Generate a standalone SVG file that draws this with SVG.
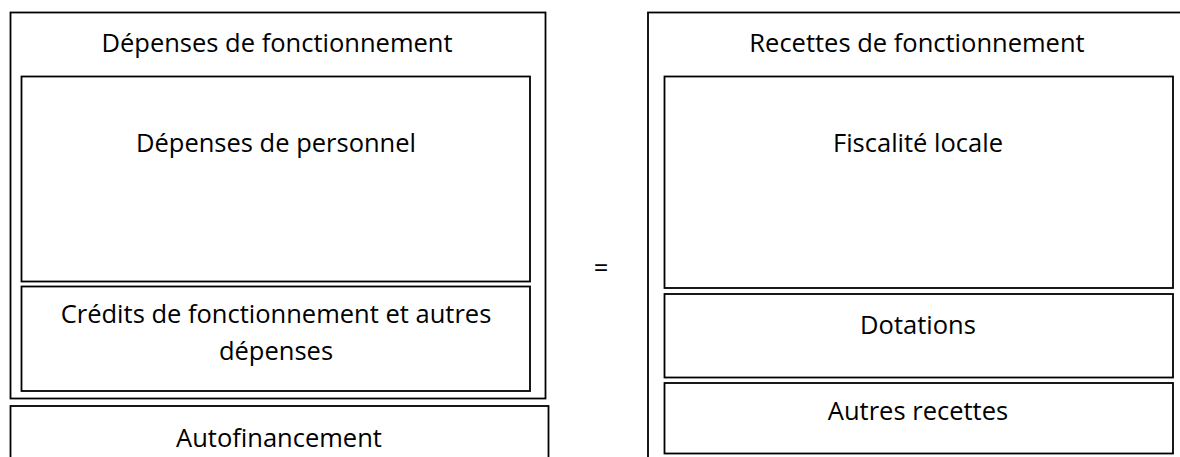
<svg xmlns="http://www.w3.org/2000/svg" width="1180" height="457" viewBox="0 0 1180 457">
<style>
rect{fill:#fff;stroke:#000;stroke-width:1.8}
text{font-family:"Open Sans","Liberation Sans",sans-serif;font-size:25.5px;fill:#000;text-anchor:middle}
</style>
<rect x="0" y="0" width="1180" height="457" style="stroke:none"/>
<g id="depenses">
<rect x="10.5" y="12.5" width="535" height="386"/>
<text x="277" y="52">Dépenses de fonctionnement</text>
</g>
<g id="personnel">
<rect x="21.5" y="76.5" width="508.5" height="205"/>
<text x="276" y="152">Dépenses de personnel</text>
</g>
<g id="credits">
<rect x="21.5" y="286.5" width="508.5" height="104.5"/>
<text x="276" y="323">Crédits de fonctionnement et autres</text>
<text x="276" y="360">dépenses</text>
</g>
<g id="autofinancement">
<rect x="10.5" y="406" width="538" height="60"/>
<text x="279" y="447">Autofinancement</text>
</g>
<g id="egal">
<text x="601" y="277">=</text>
</g>
<g id="recettes">
<rect x="648" y="12.5" width="560" height="460"/>
<text x="917" y="52">Recettes de fonctionnement</text>
</g>
<g id="fiscalite">
<rect x="664.5" y="76.5" width="508.5" height="211.5"/>
<text x="918" y="152">Fiscalité locale</text>
</g>
<g id="dotations">
<rect x="664.5" y="294" width="508.5" height="83.5"/>
<text x="918" y="334">Dotations</text>
</g>
<g id="autres">
<rect x="664.5" y="383" width="508.5" height="70.5"/>
<text x="918" y="420">Autres recettes</text>
</g>
<g id="connectors"/>
</svg>
